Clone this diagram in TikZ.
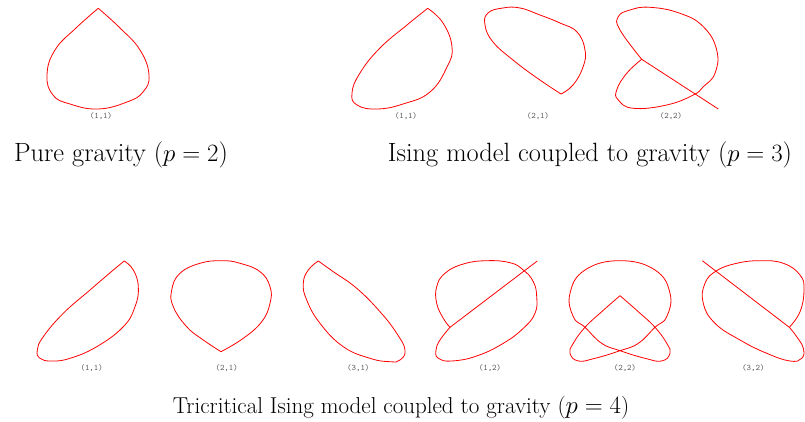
\documentclass[tikz,border=0pt]{standalone}
\usepackage{fontspec}
\begin{document}
\begin{tikzpicture}[x=1pt,y=-1pt,
  crv/.style={red, line width=0.8pt, line join=round},
  sm/.style={smooth, tension=0.75},
  lbl/.style={font=\fontsize{8.5}{9}\ttfamily, text=black!65, inner sep=0pt},
  captext/.style={font=\fontsize{26.4}{31}\selectfont, inner sep=0pt, anchor=base},
  captextb/.style={font=\fontsize{23}{28}\selectfont, inner sep=0pt, anchor=base}]
\useasboundingbox (0,0) rectangle (805,422);
% --- Pure gravity (1,1)
\draw[crv] plot[sm] coordinates {(98.3,8.3) (120,28) (140,50) (149,75) (143,92) (127,102) (98,109) (70,104) (53,95) (47,75) (55,50) (76,28) (98.3,8.3)};
\node[lbl] (l1) at (101,116) {(1,1)};
% --- Ising (1,1)
\draw[crv] plot[sm] coordinates {(427.7,8.3) (443,23) (452,47) (447,67) (430,92) (403,104) (377,109) (357,105) (352,93) (360,73) (380,48) (407,25) (427.7,8.3)};
\node[lbl] (l2) at (406,116) {(1,1)};
% --- Ising (2,1)
\draw[crv] plot[sm] coordinates {(561,94) (573,85) (583,67) (585,50) (577,32) (560,23) (540,15) (520,8) (503,8) (488,13) (485,25) (493,42) (513,60) (537,78) (561,94)};
\node[lbl] (l3) at (538,116) {(2,1)};
% --- Ising (2,2)
\draw[crv] (718.3,109) -- (641.7,59.3);
\draw[crv] plot[sm] coordinates {(641.7,59.3) (620,30) (618.3,16.7) (630,10) (650,7.3) (680,13.3) (703.3,26.7) (716.7,50) (715,73.3) (703.3,86.7) (693.3,95) (666.7,105) (633.3,108.3) (618.3,100) (616.7,90) (626.7,73.3) (641.7,59.3)};
\node[lbl] (l4) at (671,116) {(2,2)};
% --- Tricritical (1,1)
\draw[crv] plot[sm] coordinates {(124.3,261) (133.3,270) (138.3,286.7) (135,306.7) (123.3,326.7) (96.7,346.7) (70,358.3) (51.7,361) (40,358.3) (37.3,350) (43.3,336.7) (63.3,313.3) (90,290) (113.3,270) (124.3,261)};
\node[lbl] (l5) at (91.7,368) {(1,1)};
% --- Tricritical (2,1)
\draw[crv] plot[sm] coordinates {(221,351.7) (243.3,338.3) (261.7,321.7) (270,303.3) (270,286.7) (260,271.7) (240,263.3) (221.7,260.7) (200,263.3) (180,273.3) (171.7,290) (173.3,306.7) (186.7,326.7) (203.3,340) (221,351.7)};
\node[lbl] (l6) at (226.7,368) {(2,1)};
% --- Tricritical (3,1)
\draw[crv] plot[sm] coordinates {(318.3,261) (333.3,271.7) (356.7,288.3) (380,311.7) (396.7,333.3) (405,350) (400,360) (390,361.7) (370,358.3) (343.3,346.7) (320,323.3) (306.7,300) (303.3,283.3) (308.3,270) (318.3,261)};
\node[lbl] (l7) at (358.3,368) {(3,1)};
% --- Tricritical (1,2)
\draw[crv] (537.3,261) -- (450,327.3);
\draw[crv] plot[sm] coordinates {(450,327.3) (443.3,318.3) (436.7,303.3) (436.7,286.7) (445,273.3) (463.3,264) (486.7,260.7) (510,262.7) (523.3,270) (533.3,281.7) (536.7,296.7) (535,313.3) (523.3,328.3) (503.3,343.3) (476.7,356) (451.7,361) (438.3,358.3) (436,350) (440,340) (450,327.3)};
\node[lbl] (l8) at (490,368) {(1,2)};
% --- Tricritical (2,2)
\draw[crv] plot[sm] coordinates {(620,295.7) (601.7,311.7) (585,327.3) (573.3,343.3) (570,353.3) (578.3,361) (595,358.3) (620,350.7) (638.3,343.3) (655,327.3) (666.7,316.7) (670,293.3) (655,270) (620,260.7) (585,270) (570,293.3) (573.3,316.7) (585,327.3) (601.7,343.3) (620,350.7) (645,358.3) (661.7,361) (670,353.3) (666.7,343.3) (655,327.3) (638.3,311.7) (620,295.7)};
\node[lbl] (l9) at (625,368) {(2,2)};
% --- Tricritical (3,2)
\draw[crv] (702.3,260.7) -- (789.3,327.3);
\draw[crv] plot[sm] coordinates {(789.3,327.3) (800,311.7) (804,290) (800,275) (783.3,263.3) (760,260.7) (736.7,263.3) (716.7,270.7) (705,283.3) (703.3,303.3) (715,323.3) (740,340) (766.7,353.3) (790,361) (801.7,358.3) (803.3,348.3) (796.7,336.7) (789.3,327.3)};
\node[lbl] (l10) at (753.3,368) {(3,2)};
% --- captions
\node[captext] (c1) at (121,162) {Pure gravity ($p=2$)};
\node[captext] (c2) at (590,162) {Ising model coupled to gravity ($p=3$)};
\node[captextb] (c3) at (401,413) {Tricritical Ising model coupled to gravity ($p=4$)};
\end{tikzpicture}
\end{document}
